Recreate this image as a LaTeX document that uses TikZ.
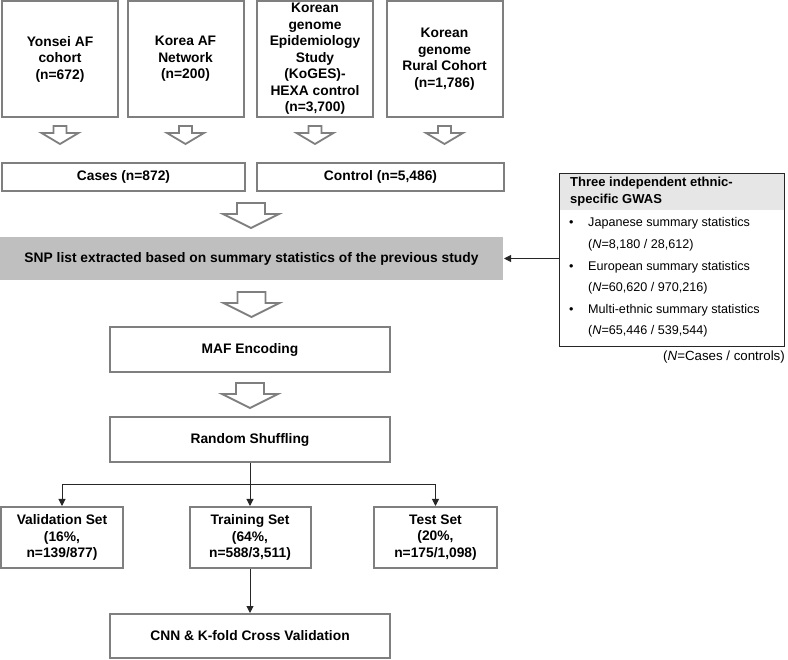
\documentclass[tikz,border=0pt]{standalone}
\usepackage{fontspec}
\setmainfont{Liberation Sans}
\usetikzlibrary{calc,arrows.meta}
\definecolor{boxgray}{HTML}{7F7F7F}
\definecolor{snpgray}{HTML}{BFBFBF}
\definecolor{headgray}{HTML}{E6E6E6}
\definecolor{linedark}{HTML}{262626}
\begin{document}
\begin{tikzpicture}[x=1pt,y=-1pt,
  box/.style={draw=boxgray, line width=2pt, fill=white, inner sep=0pt, align=center,
    font=\fontsize{13.8}{16.5}\selectfont\bfseries, text=black},
  topbox/.style={box, minimum width=116pt, minimum height=116pt},
  hollow/.style={draw=boxgray, line width=1.8pt, fill=white, line join=miter},
  bigarrow/.pic={\draw[hollow] (-14,0) -- (14,0) -- (14,11) -- (28,11) -- (0,25) -- (-28,11) -- (-14,11) -- cycle;},
  smallarrow/.pic={\draw[hollow] (-6.5,0) -- (6.5,0) -- (6.5,7) -- (18.5,7) -- (0,18) -- (-18.5,7) -- (-6.5,7) -- cycle;},
  conn/.style={draw=linedark, line width=1pt},
  tip/.style={-{Triangle[length=7pt,width=7pt]}},
  gtext/.style={inner sep=0pt, anchor=mid west, font=\fontsize{12.6}{15}\selectfont},
]
\useasboundingbox (0,0) rectangle (788,660);

% top source boxes
\node[topbox] (yon) at (60,59) {Yonsei AF\\cohort\\(n=672)};
\node[topbox] (kaf) at (185.5,59) {Korea AF\\Network\\(n=200)};
\node[topbox] (koges) at (315,59) {Korean\\genome\\Epidemiology\\Study\\(KoGES)-\\HEXA control\\(n=3,700)};
\node[topbox] (rural) at (444.5,59) {Korean\\genome\\Rural Cohort\\(n=1,786)};

\foreach \n in {yon,kaf,koges,rural}
  \pic at ($(\n.south)+(0,8)$) {smallarrow};

% cases / control
\node[box, minimum width=243pt, minimum height=28pt] (cases) at (123.5,177) {Cases (n=872)};
\node[box, minimum width=247pt, minimum height=28pt] (control) at (380.5,177) {Control (n=5,486)};

\pic at ($($(cases.south east)!0.5!(control.south west)$)+(0,11)$) {bigarrow};

% SNP list
\node[box, draw=none, fill=snpgray, minimum width=503pt, minimum height=43pt] (snp) at (251.5,258.5)
  {SNP list extracted based on summary statistics of the previous study};

\pic at ($(snp.south)+(0,11)$) {bigarrow};

\node[box, minimum width=280pt, minimum height=45pt] (maf) at (250,349.5) {MAF Encoding};

\pic at ($(maf.south)+(0,10)$) {bigarrow};

\node[box, minimum width=280pt, minimum height=45pt] (rs) at (250,439.5) {Random Shuffling};

% split sets
\node[box, minimum width=122pt, minimum height=61pt] (val) at (62,537.5) {Validation Set\\(16\%,\\n=139/877)};
\node[box, minimum width=121pt, minimum height=61pt] (train) at (250,537.5) {Training Set\\(64\%,\\n=588/3,511)};
\node[box, minimum width=123pt, minimum height=61pt] (test) at (435.5,537.5) {Test Set\\(20\%,\\n=175/1,098)};

\node[box, minimum width=280pt, minimum height=44pt] (cnn) at (250,636) {CNN \& K-fold Cross Validation};

\draw[conn, tip] (rs.south) -- (train.north);
\draw[conn, {Triangle[length=7pt,width=7pt]}-{Triangle[length=7pt,width=7pt]}]
  (val.north) |- ($(rs.south)!0.5!(train.north)$) -| (test.north);
\draw[conn, tip] (train.south) -- (cnn.north);

% GWAS box
\node[fill=headgray, minimum width=225pt, minimum height=37pt, inner sep=0pt, anchor=north west] (ghead) at (559,173) {};
\node[draw=linedark, line width=1pt, minimum width=225pt, minimum height=173pt, inner sep=0pt, anchor=north west] (gwas) at (559,173) {};
\node[inner sep=0pt, anchor=west, align=left, font=\fontsize{13}{17}\selectfont\bfseries] (gtitle) at (570,191.5)
  {Three independent ethnic-\\specific GWAS};

\node[gtext] (b1) at (569,224) {•};
\node[gtext] (g1) at (588,224) {Japanese summary statistics};
\node[gtext] (g2) at (588,246) {(\textit{N}=8,180 / 28,612)};
\node[gtext] (b2) at (569,268) {•};
\node[gtext] (g3) at (588,268) {European summary statistics};
\node[gtext] (g4) at (588,289) {(\textit{N}=60,620 / 970,216)};
\node[gtext] (b3) at (569,311) {•};
\node[gtext] (g5) at (588,311) {Multi-ethnic summary statistics};
\node[gtext] (g6) at (588,332) {(\textit{N}=65,446 / 539,544)};

\node[inner sep=0pt, anchor=mid east, font=\fontsize{13.3}{15}\selectfont] (note) at (785,358) {(\textit{N}=Cases / controls)};

\draw[conn, tip] (gwas.west |- snp.east) -- (snp.east);
\end{tikzpicture}
\end{document}
